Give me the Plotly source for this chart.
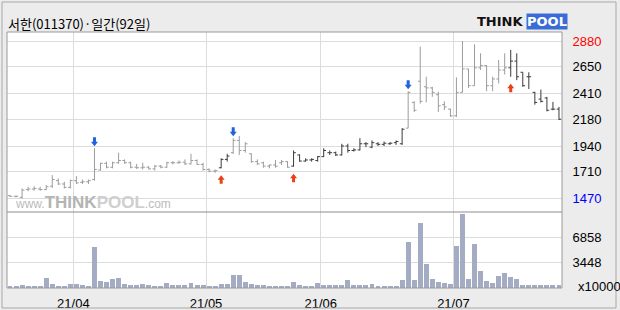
import plotly.graph_objects as go

title_text = "서한(011370)·일간(92일)"

opens = [1495, 1490, 1480, 1550, 1555, 1555, 1550, 1580, 1630, 1600,
         1570, 1630, 1615, 1620, 1640, 1725, 1785, 1750, 1790, 1810,
         1790, 1750, 1745, 1750, 1735, 1760, 1750, 1790, 1790, 1795,
         1780, 1810, 1775, 1730, 1715, 1745, 1820, 1880, 1990, 1900,
         1870, 1800, 1790, 1760, 1770, 1790, 1800, 1760, 1860, 1805,
         1815, 1810, 1845, 1880, 1880, 1860, 1940, 1900, 1905, 1960,
         1930, 1960, 1955, 1960, 1970, 1960, 2100, 2330, 2520, 2470,
         2460, 2400, 2310, 2270, 2210, 2420, 2630, 2480, 2640, 2660,
         2480, 2540, 2620, 2640, 2700, 2600, 2560, 2420, 2360, 2370,
         2270, 2270]
highs = [1500, 1495, 1560, 1575, 1580, 1575, 1590, 1680, 1650, 1620,
         1640, 1670, 1640, 1640, 1920, 1790, 1800, 1800, 1880, 1820,
         1800, 1780, 1790, 1760, 1770, 1770, 1800, 1805, 1810, 1820,
         1870, 1820, 1790, 1740, 1730, 1830, 1870, 2010, 2030, 1975,
         1875, 1820, 1800, 1775, 1815, 1815, 1805, 1900, 1865, 1830,
         1830, 1850, 1920, 1900, 1890, 1960, 1960, 1920, 2010, 1975,
         1990, 1975, 1980, 1975, 1990, 2100, 2430, 2340, 2830, 2560,
         2470, 2425, 2340, 2275, 2555, 2880, 2630, 2850, 2770, 2665,
         2560, 2710, 2770, 2800, 2770, 2600, 2600, 2425, 2445, 2380,
         2335, 2290]
lows = [1485, 1480, 1470, 1535, 1540, 1540, 1545, 1565, 1590, 1560,
        1560, 1600, 1600, 1600, 1630, 1720, 1740, 1740, 1780, 1780,
        1740, 1735, 1730, 1730, 1720, 1740, 1745, 1775, 1780, 1770,
        1775, 1770, 1720, 1705, 1700, 1740, 1800, 1870, 1860, 1880,
        1790, 1770, 1745, 1740, 1745, 1770, 1745, 1755, 1800, 1800,
        1800, 1800, 1840, 1860, 1850, 1855, 1880, 1890, 1900, 1930,
        1920, 1940, 1940, 1950, 1950, 1950, 2100, 2245, 2320, 2330,
        2380, 2245, 2262, 2200, 2200, 2420, 2460, 2480, 2620, 2430,
        2430, 2500, 2580, 2560, 2530, 2470, 2450, 2310, 2330, 2250,
        2260, 2173]
closes = [1490, 1490, 1545, 1555, 1560, 1550, 1575, 1640, 1600, 1570,
          1630, 1610, 1620, 1630, 1730, 1785, 1750, 1790, 1810, 1790,
          1750, 1745, 1750, 1735, 1760, 1750, 1790, 1790, 1795, 1780,
          1810, 1775, 1730, 1715, 1720, 1820, 1850, 1990, 1900, 1960,
          1800, 1780, 1760, 1770, 1760, 1800, 1750, 1880, 1805, 1815,
          1820, 1845, 1900, 1880, 1860, 1940, 1900, 1905, 1960, 1960,
          1970, 1955, 1965, 1965, 1980, 2090, 2420, 2260, 2340, 2460,
          2420, 2300, 2290, 2210, 2420, 2630, 2480, 2640, 2660, 2480,
          2540, 2620, 2640, 2700, 2560, 2480, 2560, 2330, 2340, 2260,
          2270, 2180]
# volume in units of 10000 shares
volumes = [230, 230, 360, 230, 230, 230, 1350, 500, 230, 230,
           500, 500, 360, 280, 5550, 900, 760, 1170, 1350, 500,
           360, 360, 500, 360, 230, 230, 630, 360, 360, 360,
           630, 360, 360, 230, 230, 500, 500, 1710, 1710, 760,
           500, 360, 360, 230, 230, 230, 230, 760, 360, 230,
           280, 680, 400, 400, 400, 400, 1040, 400, 400, 400,
           500, 300, 250, 250, 300, 1040, 6220, 1040, 8790, 3200,
           1170, 810, 680, 500, 5640, 9960, 1170, 5900, 2250, 900,
           680, 1580, 2030, 1490, 1170, 450, 450, 450, 450, 450,
           450, 450]

buy_signals = [35, 47, 83]
sell_signals = [14, 37, 66]

month_labels = ["21/04", "21/05", "21/06", "21/07"]
month_start_index = [11, 33, 52, 74]

price_tick_labels = ["1470", "1710", "1940", "2180", "2410", "2650", "2880"]
volume_tick_labels = ["3448", "6858"]

W, H = 620, 310
PX_L, PX_R = 7, 562
PY_TOP, PY_SEP, PY_BOT = 32, 212, 288

n = len(closes)
idx = list(range(n))

# regime colour: dark after a buy signal, grey after a sell signal
state = []
cur = 0
for i in idx:
    if i in buy_signals:
        cur = 1
    elif i in sell_signals:
        cur = 0
    state.append(cur)

GREY = "#9c9c9c"
DARK = "#3a3a3a"

fig = go.Figure()
for st, col in [(0, GREY), (1, DARK)]:
    sel = [i for i in idx if state[i] == st]
    fig.add_trace(go.Ohlc(
        x=sel,
        open=[opens[i] for i in sel], high=[highs[i] for i in sel],
        low=[lows[i] for i in sel], close=[closes[i] for i in sel],
        increasing=dict(line=dict(color=col, width=1)),
        decreasing=dict(line=dict(color=col, width=1)),
        tickwidth=0.38, xaxis="x", yaxis="y", hoverinfo="skip",
        showlegend=False))

fig.add_trace(go.Bar(x=idx, y=volumes, xaxis="x", yaxis="y2",
                     marker=dict(color="#a4acc4", line=dict(width=0)),
                     width=0.82, showlegend=False, hoverinfo="skip"))

def py(v):
    return (H - v) / H

pmin = min(lows)
pmax = max(highs)
price_vals = [float(t) for t in price_tick_labels]
price_text = []
for t in price_tick_labels:
    v = float(t)
    if v == pmax:
        price_text.append('<span style="color:#ff0000">%s</span>' % t)
    elif v == pmin:
        price_text.append('<span style="color:#0000ff">%s</span>' % t)
    else:
        price_text.append(t)

# price axis range: 2880 grid at y=41px, 1470 grid at y=198.5px
scale = (198.5 - 41) / (pmax - pmin)
p_top = pmax + (41 - PY_TOP) / scale
p_bot = pmin - (PY_SEP - 198.5) / scale

vscale = (PY_BOT - 237.3) / float(volume_tick_labels[1])
v_top = (PY_BOT - PY_SEP) / vscale

LABEL_FONT = dict(family="Liberation Sans Narrow, Liberation Sans, Arial", size=13, color="#000000")

fig.update_layout(
    width=W, height=H, margin=dict(l=0, r=0, t=0, b=0),
    paper_bgcolor="#ececec", plot_bgcolor="#ffffff",
    showlegend=False, bargap=0,
    xaxis=dict(domain=[PX_L / W, PX_R / W], range=[-0.5, n - 0.5],
               anchor="y2", tickmode="array",
               tickvals=[s - 0.5 for s in month_start_index], ticktext=month_labels,
               showgrid=True, gridcolor="#dcdcdc", gridwidth=1, zeroline=False,
               showline=False, ticks="outside", ticklen=3, tickcolor="rgba(0,0,0,0)",
               tickfont=dict(family="Liberation Sans, Arial", size=13, color="#000"),
               rangeslider=dict(visible=False), fixedrange=True),
    yaxis=dict(domain=[py(PY_SEP), py(PY_TOP)], range=[p_bot, p_top], side="right",
               anchor="x", tickmode="array", tickvals=price_vals, ticktext=price_text,
               showgrid=True, gridcolor="#dcdcdc", gridwidth=1, zeroline=False,
               showline=False, ticks="outside", ticklen=7, tickcolor="rgba(0,0,0,0)",
               tickfont=LABEL_FONT, fixedrange=True),
    yaxis2=dict(domain=[py(PY_BOT), py(PY_SEP)], range=[0, v_top], side="right",
                anchor="x", tickmode="array",
                tickvals=[float(t) for t in volume_tick_labels], ticktext=volume_tick_labels,
                showgrid=True, gridcolor="#dcdcdc", gridwidth=1, zeroline=False,
                showline=False, ticks="outside", ticklen=7, tickcolor="rgba(0,0,0,0)",
                tickfont=LABEL_FONT, fixedrange=True),
)

shapes = []
# watermark backing box covering the lowest grid line
shapes.append(dict(type="rect", xref="paper", yref="paper", layer="between",
                   x0=(PX_L + 1) / W, x1=206 / W, y0=py(211), y1=py(193),
                   fillcolor="#ffffff", line=dict(width=0)))
# outer frame
shapes.append(dict(type="rect", xref="paper", yref="paper",
                   x0=2 / W, x1=616 / W, y0=py(308), y1=py(2),
                   line=dict(color="#a8a8a8", width=1)))
# plot frame and separator
shapes.append(dict(type="rect", xref="paper", yref="paper",
                   x0=PX_L / W, x1=PX_R / W, y0=py(PY_BOT), y1=py(PY_TOP),
                   line=dict(color="#9a9a9a", width=1)))
shapes.append(dict(type="line", xref="paper", yref="paper",
                   x0=PX_L / W, x1=PX_R / W, y0=py(PY_SEP), y1=py(PY_SEP),
                   line=dict(color="#8c8c8c", width=1)))

BLUE = "#1f62dc"
RED = "#e8421a"
down_arrow = "M -1.5,11 L 1.5,11 L 1.5,6.5 L 3.5,6.5 L 0,2 L -3.5,6.5 L -1.5,6.5 Z"
up_arrow = "M 0,-7 L 3.5,-11.5 L 1.5,-11.5 L 1.5,-15.5 L -1.5,-15.5 L -1.5,-11.5 L -3.5,-11.5 Z"
for i in sell_signals:
    shapes.append(dict(type="path", xref="x", yref="y", xsizemode="pixel",
                       ysizemode="pixel", xanchor=i, yanchor=highs[i], path=down_arrow,
                       fillcolor=BLUE, line=dict(width=0)))
for i in buy_signals:
    shapes.append(dict(type="path", xref="x", yref="y", xsizemode="pixel",
                       ysizemode="pixel", xanchor=i, yanchor=lows[i], path=up_arrow,
                       fillcolor=RED, line=dict(width=0)))
fig.update_layout(shapes=shapes)

ann = []
ann.append(dict(text=title_text, xref="paper", yref="paper", x=6 / W, y=py(23),
                xanchor="left", yanchor="middle", showarrow=False,
                font=dict(family="Noto Sans CJK KR", size=13, color="#000")))
# volume unit label
ann.append(dict(text="x10000", xref="paper", yref="y2", x=576 / W, y=0,
                xanchor="left", yanchor="middle", yshift=2, showarrow=False,
                font=LABEL_FONT))
# logo
ann.append(dict(text="<b>THINK</b>", xref="paper", yref="paper", x=525 / W, y=py(21),
                xanchor="right", yanchor="middle", showarrow=False,
                font=dict(family="DejaVu Sans", size=13, color="#111")))
ann.append(dict(text="<b>POOL</b>", xref="paper", yref="paper", x=526 / W, y=py(21),
                xanchor="left", yanchor="middle", showarrow=False, bgcolor="#3a6cd6",
                borderpad=0, font=dict(family="DejaVu Sans", size=13, color="#ffffff")))
# watermark
ann.append(dict(text='www.<b><span style="font-size:17px;color:#b4b4b4">THINK</span>'
                     '<span style="font-size:17px;color:#cfcfcf">POOL</span></b>.com',
                xref="paper", yref="paper", x=93 / W, y=py(203),
                xanchor="center", yanchor="middle", showarrow=False,
                font=dict(family="Liberation Sans, Arial", size=12, color="#bbbbbb")))
fig.update_layout(annotations=ann)

fig.write_html("out.html")
